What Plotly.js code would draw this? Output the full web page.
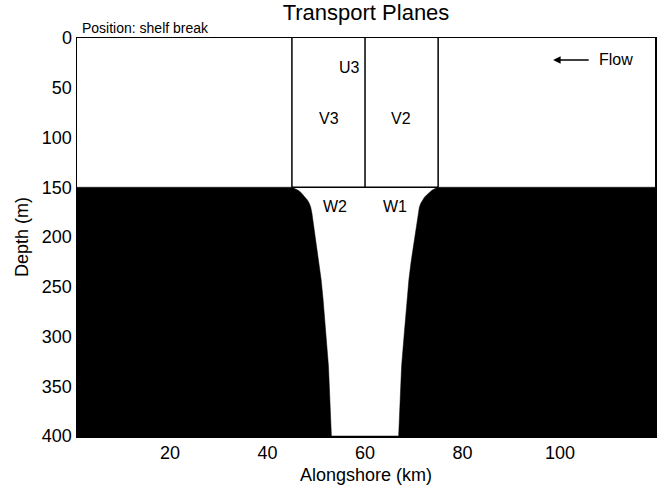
<!DOCTYPE html>
<html>
<head>
<meta charset="utf-8">
<script src="https://cdn.plot.ly/plotly-3.0.1.min.js"></script>
<style>
  html, body { margin: 0; padding: 0; background: #fff; }
  #plot { width: 657px; height: 485px; }
</style>
</head>
<body>
<div id="plot"></div>
<script>
// Alongshore extent of the model domain (km) and depth limits (m)
const alongshoreRange = [0.9, 119.5];
const shelfDepth = 150;
const bottomDepth = 400;

// Canyon geometry: centre line and half-width of the canyon at each depth
const canyonCenter = 60;
const wallDepth     = [150, 150.5, 151.5, 153, 155, 157.5, 160, 163, 166, 170, 176, 183, 190, 200, 210, 225, 243, 263, 300, 330, 365, 400];
const wallHalfWidth = [15, 14.75, 14.3, 13.75, 13.2, 12.7, 12.2, 11.8, 11.45, 11.15, 10.9, 10.7, 10.5, 10.2, 9.9, 9.45, 9.0, 8.6, 8.0, 7.5, 7.2, 6.9];

// Transport planes: vertical planes (km) and the horizontal plane at the rim
const planeX = [45, 60, 75];
const planeTop = 0;
const rimPlaneX = [45, 75];

// Plane labels
const labelText  = ['U3', 'V3', 'V2', 'W2', 'W1'];
const labelX     = [56.9, 52.6, 67.4, 53.8, 66.1];
const labelDepth = [30, 80.5, 80.5, 169, 169];

// Flow arrow (head, tail) and its label
const flowArrowX = [98.6, 106.2];
const flowDepth = 22;

// Bathymetry outline: shelf on both sides, canyon walls in between
const bathX = [alongshoreRange[0], alongshoreRange[0]];
const bathY = [bottomDepth, shelfDepth];
for (let i = 0; i < wallDepth.length; i++) {
  bathX.push(canyonCenter - wallHalfWidth[i]);
  bathY.push(wallDepth[i]);
}
for (let i = wallDepth.length - 1; i >= 0; i--) {
  bathX.push(canyonCenter + wallHalfWidth[i]);
  bathY.push(wallDepth[i]);
}
bathX.push(alongshoreRange[1], alongshoreRange[1]);
bathY.push(shelfDepth, bottomDepth);

const traces = [{
  type: 'scatter', mode: 'lines',
  x: bathX, y: bathY,
  fill: 'toself', fillcolor: '#000',
  line: {color: '#000', width: 0.5},
  hoverinfo: 'skip', showlegend: false
}];

planeX.forEach(px => {
  traces.push({
    type: 'scatter', mode: 'lines',
    x: [px, px], y: [planeTop, shelfDepth],
    line: {color: '#000', width: 1.5},
    hoverinfo: 'skip', showlegend: false
  });
});
traces.push({
  type: 'scatter', mode: 'lines',
  x: rimPlaneX, y: [shelfDepth, shelfDepth],
  line: {color: '#000', width: 1.5},
  hoverinfo: 'skip', showlegend: false
});

const font = 'Liberation Sans, Arial, Helvetica, sans-serif';

const annotations = labelText.map((t, i) => ({
  x: labelX[i], y: labelDepth[i], xref: 'x', yref: 'y',
  text: t, showarrow: false,
  font: {family: font, size: 16, color: '#000'}
}));
annotations.push({
  x: flowArrowX[0], y: flowDepth, ax: flowArrowX[1], ay: flowDepth,
  xref: 'x', yref: 'y', axref: 'x', ayref: 'y',
  text: '', showarrow: true, arrowhead: 2, arrowsize: 1, arrowwidth: 1.5,
  arrowcolor: '#000', standoff: 0, startstandoff: 0
});
annotations.push({
  x: flowArrowX[1] + 1.5, y: flowDepth, xref: 'x', yref: 'y',
  xanchor: 'left', text: 'Flow', showarrow: false,
  font: {family: font, size: 16, color: '#000'}
});
annotations.push({
  x: 0, y: 1, xref: 'paper', yref: 'paper',
  xanchor: 'left', yanchor: 'bottom', xshift: 3, yshift: 0,
  text: 'Position: shelf break', showarrow: false,
  font: {family: font, size: 14, color: '#000'}
});

const layout = {
  width: 657, height: 485,
  margin: {l: 77, r: 2, t: 38, b: 49},
  paper_bgcolor: '#fff', plot_bgcolor: '#fff',
  font: {family: font, color: '#000'},
  title: {
    text: 'Transport Planes',
    font: {family: font, size: 22, color: '#000'},
    x: 0.5, xref: 'paper', y: 0.99, yanchor: 'top'
  },
  xaxis: {
    range: alongshoreRange,
    tickvals: [20, 40, 60, 80, 100],
    ticks: '', showgrid: false, zeroline: false,
    showline: true, mirror: true, linecolor: '#000', linewidth: 1.5,
    tickfont: {family: font, size: 18, color: '#000'},
    title: {text: 'Alongshore (km)', font: {family: font, size: 18, color: '#000'}, standoff: 8}
  },
  yaxis: {
    range: [bottomDepth, 0],
    tickvals: [0, 50, 100, 150, 200, 250, 300, 350, 400],
    ticks: '', showgrid: false, zeroline: false,
    showline: true, mirror: true, linecolor: '#000', linewidth: 1.5,
    tickfont: {family: font, size: 18, color: '#000'},
    title: {text: 'Depth (m)', font: {family: font, size: 18, color: '#000'}, standoff: 8}
  },
  annotations: annotations,
  showlegend: false
};

Plotly.newPlot('plot', traces, layout, {staticPlot: true, displayModeBar: false});
</script>
</body>
</html>
